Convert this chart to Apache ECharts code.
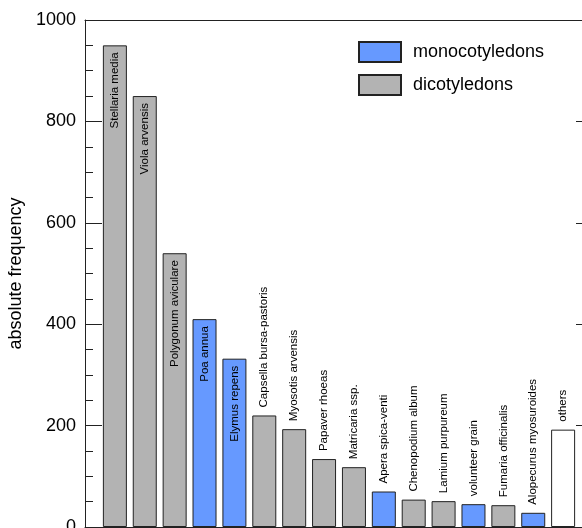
<!DOCTYPE html>
<html><head><meta charset="utf-8">
<script src="https://cdn.jsdelivr.net/npm/echarts@6/dist/echarts.min.js"></script>
<style>html,body{margin:0;padding:0;background:#fff}#c{width:582px;height:528px}</style>
</head><body><div id="c"></div>
<script>
const species = ['Stellaria media','Viola arvensis','Polygonum aviculare','Poa annua','Elymus repens','Capsella bursa-pastoris','Myosotis arvensis','Papaver rhoeas','Matricaria ssp.','Apera spica-venti','Chenopodium album','Lamium purpureum','volunteer grain','Fumaria officinalis','Alopecurus myosuroides','others'];
const frequency = [950,850,540,410,332,220,193,134,118,70,54,51,45,43,28,192];
const group = ['dicotyledons','dicotyledons','dicotyledons','monocotyledons','monocotyledons','dicotyledons','dicotyledons','dicotyledons','dicotyledons','monocotyledons','dicotyledons','dicotyledons','monocotyledons','dicotyledons','monocotyledons','others'];
const legendNames = ['monocotyledons','dicotyledons'];
const yTicks = [0,200,400,600,800,1000];

const FONT = '"Liberation Sans", Arial, sans-serif';
const colors = {monocotyledons:'#6699ff', dicotyledons:'#b3b3b3', others:'#ffffff'};

function seriesFor(name){
  return {
    name: name, type:'bar', barWidth:24, barGap:'-100%',
    itemStyle:{color:colors[name], borderColor:'#222', borderWidth:1},
    label:{show:true, rotate:90, verticalAlign:'middle', formatter:function(p){return p.name;},
      fontSize:11.5, color:'#000', fontFamily:FONT},
    emphasis:{disabled:true},
    data: species.map(function(s,i){return {s:s,i:i};})
      .filter(function(o){return group[o.i]===name;})
      .map(function(o){
        const inside = frequency[o.i] >= 300;
        return {value:[o.i+1, frequency[o.i]], name:o.s,
          label: inside ? {position:'insideTop', align:'right', distance:7}
                        : {position:'top', align:'left', distance:8}};
      })
  };
}

const chart = echarts.init(document.getElementById('c'), null, {renderer:'canvas'});
const axisLineStyle = {color:'#222', width:1};
chart.setOption({
  animation:false,
  backgroundColor:'#fff',
  grid:{left:85, top:20, width:508, height:507, containLabel:false, outerBoundsMode:'none'},
  legend:{data:legendNames, orient:'vertical', left:358, top:41, padding:0,
    itemWidth:42, itemHeight:20, itemGap:11, icon:'rect',
    textStyle:{fontSize:18, fontFamily:FONT, color:'#000', padding:[0,0,0,7]}},
  xAxis:[
    {type:'value', min:0, max:17, position:'bottom', axisLine:{show:true, onZero:false, lineStyle:axisLineStyle},
      axisTick:{show:false}, axisLabel:{show:false}, splitLine:{show:false}},
    {type:'value', min:0, max:17, position:'top', axisLine:{show:true, onZero:false, lineStyle:axisLineStyle},
      axisTick:{show:false}, axisLabel:{show:false}, splitLine:{show:false}}
  ],
  yAxis:[
    {type:'value', min:yTicks[0], max:yTicks[yTicks.length-1], interval:yTicks[1]-yTicks[0], position:'left',
      axisLine:{show:true, onZero:false, lineStyle:axisLineStyle},
      axisTick:{show:true, inside:true, length:17, lineStyle:axisLineStyle},
      minorTick:{show:true, splitNumber:4, length:8, lineStyle:axisLineStyle},
      axisLabel:{fontSize:18, fontFamily:FONT, color:'#000', margin:9, formatter:function(v){return String(v);}},
      splitLine:{show:false},
      name:'absolute frequency', nameLocation:'middle', nameGap:55,
      nameTextStyle:{fontSize:18, fontFamily:FONT, color:'#000'}},
    {type:'value', min:yTicks[0], max:yTicks[yTicks.length-1], interval:yTicks[1]-yTicks[0], position:'right',
      axisLine:{show:true, onZero:false, lineStyle:axisLineStyle},
      axisTick:{show:true, inside:true, length:17, lineStyle:axisLineStyle},
      minorTick:{show:true, splitNumber:4, length:8, lineStyle:axisLineStyle},
      axisLabel:{show:false}, splitLine:{show:false}}
  ],
  series:[seriesFor('monocotyledons'), seriesFor('dicotyledons'), seriesFor('others')]
});
</script></body></html>
